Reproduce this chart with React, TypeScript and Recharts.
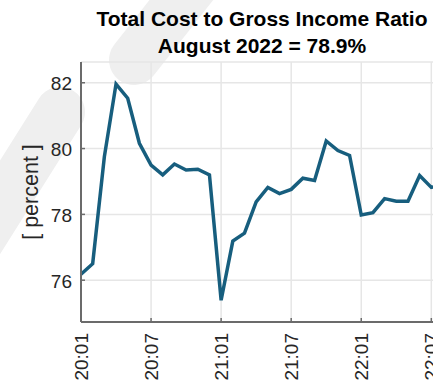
import { LineChart, Line, XAxis, YAxis, CartesianGrid } from "recharts";

const months = [
  "20:01", "20:02", "20:03", "20:04", "20:05", "20:06", "20:07", "20:08",
  "20:09", "20:10", "20:11", "20:12", "21:01", "21:02", "21:03", "21:04",
  "21:05", "21:06", "21:07", "21:08", "21:09", "21:10", "21:11", "21:12",
  "22:01", "22:02", "22:03", "22:04", "22:05", "22:06", "22:07", "22:08",
];

const costIncomeRatio = [
  76.18, 76.5, 79.75, 81.96, 81.53, 80.16, 79.5, 79.2,
  79.53, 79.35, 79.37, 79.2, 75.39, 77.19, 77.43, 78.38,
  78.82, 78.63, 78.76, 79.1, 79.03, 80.23, 79.94, 79.79,
  77.98, 78.05, 78.48, 78.4, 78.4, 79.18, 78.82, 78.9,
];

const xTicks = [0, 6, 12, 18, 24, 30];
const yTicks = [76, 78, 80, 82];

const data = months.map((m, i) => ({ idx: i, label: m, value: costIncomeRatio[i] }));

const FONT = "'Liberation Sans', Arial, Helvetica, sans-serif";
const AXIS = "#6b6b6b";
const TXT = "#262626";

const BottomTick = (props: any) => {
  const { x, y, payload } = props;
  return (
    <g>
      <line x1={x} y1={y} x2={x} y2={y - 4} stroke={AXIS} strokeWidth={1.5} />
      <text
        transform={`translate(${x + 7},${y + 11}) rotate(-90)`}
        textAnchor="end"
        fontSize={19}
        fontFamily={FONT}
        fill={TXT}
      >
        {months[payload.value]}
      </text>
    </g>
  );
};

const TopTick = (props: any) => {
  const { x, y } = props;
  return <line x1={x} y1={y} x2={x} y2={y + 4} stroke={AXIS} strokeWidth={1.5} />;
};

const LeftTick = (props: any) => {
  const { x, y, payload } = props;
  return (
    <g>
      <line x1={x} y1={y} x2={x + 4} y2={y} stroke={AXIS} strokeWidth={1.5} />
      <text x={x - 9} y={y + 7.5} textAnchor="end" fontSize={19} fontFamily={FONT} fill={TXT}>
        {payload.value}
      </text>
    </g>
  );
};

export default function App() {
  return (
    <div
      style={{
        position: "fixed",
        left: 0,
        top: 0,
        width: 433,
        height: 383,
        overflow: "hidden",
        background: "#fff",
      }}
    >
      <svg width={433} height={383} style={{ position: "absolute", left: 0, top: 0 }}>
        <g stroke="#efefef" strokeWidth={50} strokeLinecap="round">
          <line x1={205} y1={-30} x2={134} y2={60} />
          <line x1={60} y1={112} x2={-62} y2={306} />
        </g>
        <text x={262} y={26} textAnchor="middle" fontSize={21} fontWeight="bold" fontFamily={FONT} fill="#000">
          Total Cost to Gross Income Ratio
        </text>
        <text x={262} y={53} textAnchor="middle" fontSize={21} fontWeight="bold" fontFamily={FONT} fill="#000">
          August 2022 = 78.9%
        </text>
        <text
          transform="translate(38,192) rotate(-90)"
          textAnchor="middle"
          fontSize={21.5}
          fontFamily={FONT}
          fill={TXT}
        >
          [ percent ]
        </text>
      </svg>
      <div style={{ position: "absolute", left: 0, top: 0 }}>
        <LineChart width={460} height={383} data={data} margin={{ top: 62, right: 17, bottom: 0, left: 0 }}>
          <CartesianGrid stroke="#e6e6e6" strokeWidth={1.5} />
          <XAxis
            dataKey="idx"
            type="number"
            domain={[0, 31]}
            ticks={xTicks}
            height={61}
            tickSize={0}
            tickMargin={0}
            tickLine={false}
            axisLine={{ stroke: AXIS, strokeWidth: 2 }}
            tick={<BottomTick />}
            interval={0}
          />
          <XAxis
            xAxisId="top"
            orientation="top"
            dataKey="idx"
            type="number"
            domain={[0, 31]}
            ticks={xTicks}
            height={0}
            tickSize={0}
            tickMargin={0}
            tickLine={false}
            axisLine={{ stroke: AXIS, strokeWidth: 2 }}
            tick={<TopTick />}
            interval={0}
          />
          <YAxis
            type="number"
            domain={[74.73, 82.63]}
            ticks={yTicks}
            allowDataOverflow
            width={81}
            tickSize={0}
            tickMargin={0}
            tickLine={false}
            axisLine={{ stroke: AXIS, strokeWidth: 2 }}
            tick={<LeftTick />}
            interval={0}
          />
          <Line
            type="linear"
            dataKey="value"
            stroke="#175e7e"
            strokeWidth={3.5}
            dot={false}
            isAnimationActive={false}
          />
        </LineChart>
      </div>
    </div>
  );
}
